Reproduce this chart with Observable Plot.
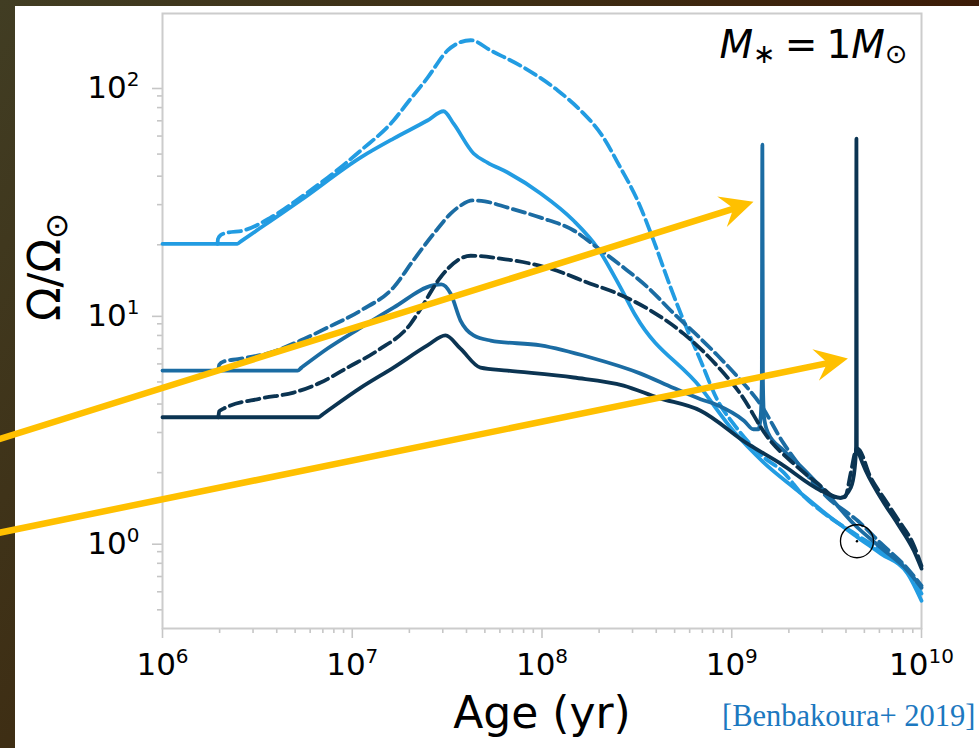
<!DOCTYPE html>
<html><head><meta charset="utf-8">
<script src="https://cdn.jsdelivr.net/npm/d3@7"></script>
<script src="https://cdn.jsdelivr.net/npm/@observablehq/plot@0.6"></script>
<style>
html,body{margin:0;padding:0;width:979px;height:748px;overflow:hidden;}
body{position:relative;background:linear-gradient(125deg,#413d23 0%,#3e2e14 35%,#3c1c08 65%,#3b1605 100%);}
#panel{position:absolute;left:15px;top:6px;right:0;bottom:0;background:#ffffff;}
#chart{position:absolute;left:0;top:0;}
</style></head>
<body><div id="panel"></div><div id="chart"></div>
<script>
// ---- data: [age (yr), Omega/Omega_sun] ----
const lightSolid = [
 [1e6,20.2],[2.48e6,20.2],[2.6e6,20.75],[3.7e6,25.4],[5.33e6,31.3],[1.11e7,48.4],[1.65e7,58.5],[2.49e7,70.2],[3.03e7,77.1],
 [3.42e7,68.0],[4.36e7,50.3],[5.16e7,45.9],[6.59e7,41.5],[9.84e7,33.6],[1.47e8,25.5],[1.96e8,19.4],
 [2.59e8,13.0],[3.11e8,9.78],[6.85e8,4.72],[1.02e9,3.05],[1.47e9,2.22],[2.22e9,1.67],[3.32e9,1.27],
 [4.61e9,1.04],[6.10e9,0.882],[8.45e9,0.721],[1e10,0.548]
];
const lightDashed = [
 [1.95e6,20.2],[1.96e6,21.2],[2.02e6,22.0],[2.2e6,22.6],[2.67e6,23.1],[3.71e6,26.3],[5.33e6,32.2],
 [7.41e6,39.4],[1.11e7,51.9],[1.65e7,70.2],[1.96e7,84.2],[2.49e7,108],[3.18e7,142.5],[3.72e7,155],
 [4.21e7,158],[5.36e7,142.5],[8.00e7,120],[1.21e8,95.1],[1.60e8,77.6],[2.04e8,61.5],[2.59e8,43.6],
 [3.19e8,31.3],[3.87e8,20.9],[4.76e8,13.0],[5.57e8,9.30],[6.85e8,6.21],[8.43e8,4.14],[1.02e9,3.28],
 [1.42e9,2.40],[1.88e9,2.00],[2.39e9,1.58],[3.05e9,1.33],[4.61e9,1.06],[6.10e9,0.91],[8.45e9,0.743],
 [1e10,0.589]
];
const midSolid = [
 [1e6,5.61],[5.15e6,5.61],[5.4e6,5.78],[7.41e6,7.01],[1.11e7,8.66],[1.65e7,10.6],[2.69e7,13.3],[2.95e7,13.4],
 [3.30e7,12.2],[3.72e7,9.30],[4.36e7,8.00],[5.36e7,7.60],[9.84e7,7.23],[1.80e8,6.40],[3.31e8,5.44],
 [4.94e8,4.7],[6.85e8,4.2],[8.43e8,3.95],[1.16e9,3.38],[1.30e9,3.1],[1.38e9,3.1],[1.42e9,3.5],
 [1.44e9,5],[1.45e9,55],[1.46e9,5],[1.48e9,3.5],[1.55e9,3.0],[1.88e9,2.50],[2.22e9,2.2],[3.32e9,1.55],
 [4.40e9,1.19],[6.10e9,0.938],[8.45e9,0.743],[1e10,0.625]
];
const midDashed = [
 [1.97e6,5.61],[1.99e6,5.95],[2.1e6,6.15],[2.5e6,6.3],[3.71e6,6.73],[5.33e6,7.60],[7.41e6,8.66],
 [1.11e7,10.3],[1.65e7,13.0],[2.10e7,17.1],[2.69e7,22.4],[3.30e7,27.4],[3.72e7,29.7],[4.3e7,31.3],
 [5.0e7,31.0],[6.59e7,29.1],[9.84e7,26.3],[1.47e8,23.1],[1.96e8,19.4],[2.69e8,15.9],[3.61e8,13.0],
 [4.94e8,10.0],[6.85e8,7.75],[8.43e8,6.53],[1.07e9,5.28],[1.42e9,3.98],[1.88e9,2.68],[2.39e9,2.04],
 [3.21e9,1.55],[4.61e9,1.23],[6.10e9,0.98],[8.45e9,0.758],[1e10,0.638]
];
const darkSolid = [
 [1e6,3.50],[6.64e6,3.50],[7.0e6,3.61],[1.11e7,4.72],[1.65e7,5.78],[2.49e7,7.23],[3.10e7,8.00],[3.72e7,7.0],
 [4.74e7,5.78],[6.59e7,5.61],[1.47e8,5.23],[2.69e8,4.82],[4.06e8,4.27],[6.85e8,3.74],[1.21e9,2.68],
 [1.81e9,2.19],[2.94e9,1.67],[3.75e9,1.55],[4.24e9,1.72],[4.45e9,2.10],[4.52e9,2.6],[4.54e9,58.5],
 [4.56e9,2.6],[4.67e9,2.44],[4.90e9,2.19],[6.10e9,1.55],[7.50e9,1.19],[9.10e9,0.91],[1e10,0.758]
];
const darkDashed = [
 [1.97e6,3.50],[1.99e6,3.72],[2.10e6,3.82],[3.29e6,4.23],[4.91e6,4.49],[6.81e6,4.97],[9.44e6,5.78],
 [1.36e7,6.87],[2.03e7,9.0],[2.21e7,9.97],[2.92e7,14.4],[3.59e7,17.1],[4.21e7,17.9],[6.05e7,17.4],
 [1.11e8,15.7],[1.80e8,13.5],[2.51e8,12.2],[3.73e8,10.3],[5.57e8,8.15],[8.43e8,5.85],[1.11e9,4.44],
 [1.55e9,2.85],[2.12e9,2.19],[2.84e9,1.79],[3.61e9,1.55],[3.95e9,1.56],[4.24e9,2.0],[4.5e9,2.5],
 [4.61e9,2.55],[5.40e9,1.90],[6.32e9,1.55],[7.5e9,1.25],[9.1e9,0.96],[1e10,0.78]
];
const sunPoint = [[4.57e9, 1.0]];
// annotation arrows: [start, tip] in data coordinates
const arrowList = [
 [[1.24e5, 2.73], [1.31e9, 30.7]],
 [[1.24e5, 1.07], [4.12e9, 6.31]]
];
const xMajor = [1e6, 1e7, 1e8, 1e9, 1e10];
const yMajor = [1, 10, 100];
const xMinor = [], yMinor = [];
for (const p of [1e6, 1e7, 1e8, 1e9]) for (let k = 2; k <= 9; k++) xMinor.push(k * p);
for (const p of [0.1, 1, 10]) for (let k = 2; k <= 9; k++) { const v = k * p; if (v > 0.414 && v < 207) yMinor.push(v); }

// ---- styles ----
const LIGHT = "#229ce2", MID = "#1b6ca3", DARK = "#0b3452", YELLOW = "#ffc000";
const DASH = "12.5,5.5";
const series = [
 {pts: lightSolid, color: LIGHT, dash: null},
 {pts: lightDashed, color: LIGHT, dash: DASH},
 {pts: midSolid, color: MID, dash: null},
 {pts: midDashed, color: MID, dash: DASH},
 {pts: darkSolid, color: DARK, dash: null},
 {pts: darkDashed, color: DARK, dash: DASH}
];
const TICK = "#c6c6c6";
const expo = d => String(Math.round(Math.log10(d)));
const TITLE = "M∗ = 1M⊙", YLABEL = "Ω/Ω⊙";

const plot = Plot.plot({
  width: 979, height: 748,
  marginLeft: 162, marginRight: 58, marginTop: 13, marginBottom: 120,
  style: {background: "transparent", overflow: "visible", fontFamily: "DejaVu Sans", color: "black"},
  x: {type: "log", domain: [1e6, 1e10]},
  y: {type: "log", domain: [0.414, 207]},
  marks: [
    Plot.axisX({ticks: xMinor, tickSize: 5, stroke: TICK, strokeWidth: 1.6, fill: "none", label: null}),
    Plot.axisX({ticks: xMajor, tickSize: 10, tickPadding: 14, stroke: TICK, strokeWidth: 1.6, fill: "black", fontSize: 31, tickFormat: expo, label: null}),
    Plot.axisY({ticks: yMinor, tickSize: 5, stroke: TICK, strokeWidth: 1.6, fill: "none", label: null}),
    Plot.axisY({ticks: yMajor, tickSize: 10, tickPadding: 13, stroke: TICK, strokeWidth: 1.6, fill: "black", fontSize: 31, tickFormat: expo, dy: 3, label: null}),
    Plot.frame({stroke: "#cccccc", strokeWidth: 2}),
    ...series.map(s => Plot.line(s.pts, {x: d => d[0], y: d => d[1], stroke: s.color, strokeWidth: 3.8, strokeDasharray: s.dash, curve: "monotone-x"})),
    Plot.dot(sunPoint, {x: d => d[0], y: d => d[1], r: 16.5, stroke: "black", strokeWidth: 1.3, fill: "none"}),
    Plot.dot(sunPoint, {x: d => d[0], y: d => d[1], r: 1.2, fill: "black"}),
    Plot.arrow(arrowList, {x1: d => d[0][0], y1: d => d[0][1], x2: d => d[1][0], y2: d => d[1][1], stroke: YELLOW, strokeWidth: 6.5, headLength: 0, insetEnd: 16}),
    Plot.text(["Age (yr)"], {text: d => d, frameAnchor: "bottom", lineAnchor: "middle", dy: 85, fontSize: 44, fill: "black"}),
    Plot.text([YLABEL], {text: d => d, frameAnchor: "left", lineAnchor: "middle", dx: -117, rotate: -90, fontSize: 44, fill: "black"}),
    Plot.text([TITLE], {text: d => d, frameAnchor: "top-right", lineAnchor: "middle", textAnchor: "end", dx: -14, dy: 32, fontSize: 39, fill: "black"}),
    Plot.text(["[Benbakoura+ 2019]"], {text: d => d, frameAnchor: "bottom-right", lineAnchor: "middle", textAnchor: "end", dx: 54, dy: 88, fontSize: 30.5, fontFamily: "Liberation Serif", fill: "#1c78c0"})
  ]
});
document.getElementById("chart").appendChild(plot);

// ---- post-processing: math-style text and arrow heads ----
const root = d3.select(plot);
root.selectAll('g[aria-label="x-axis tick label"] text, g[aria-label="y-axis tick label"] text').each(function() {
  const e = this.textContent.trim();
  const t = d3.select(this); t.text("");
  t.append("tspan").text("10");
  t.append("tspan").attr("font-size", 20).attr("dy", -12).text(e);
});
const byText = s => root.selectAll("text").filter(function() { return this.textContent === s; });
{
  const t = byText(TITLE); t.text("");
  t.append("tspan").attr("font-style", "italic").text("M");
  t.append("tspan").attr("font-size", 27).attr("dy", 5).text("∗");
  t.append("tspan").attr("dy", -5).attr("dx", 9).text("=");
  t.append("tspan").attr("dx", 9).text("1");
  t.append("tspan").attr("font-style", "italic").text("M");
  t.append("tspan").attr("font-size", 27).attr("dy", 5).text("⊙");
}
{
  const t = byText(YLABEL); t.text("");
  t.append("tspan").text("Ω/Ω");
  t.append("tspan").attr("font-size", 31).attr("dy", 7).text("⊙");
}
const sx = plot.scale("x"), sy = plot.scale("y");
const gA = root.append("g").attr("aria-label", "arrow heads");
for (const a of arrowList) {
  const x1 = sx.apply(a[0][0]), y1 = sy.apply(a[0][1]);
  const x2 = sx.apply(a[1][0]), y2 = sy.apply(a[1][1]);
  const len = Math.hypot(x2 - x1, y2 - y1), ux = (x2 - x1) / len, uy = (y2 - y1) / len;
  const nx = -uy, ny = ux, L = 33, W = 16, N = 21;
  const p = [[x2, y2], [x2 - L * ux + W * nx, y2 - L * uy + W * ny], [x2 - N * ux, y2 - N * uy], [x2 - L * ux - W * nx, y2 - L * uy - W * ny]];
  gA.append("path").attr("d", "M" + p.map(q => q.join(",")).join("L") + "Z").attr("fill", YELLOW);
}
</script></body></html>
